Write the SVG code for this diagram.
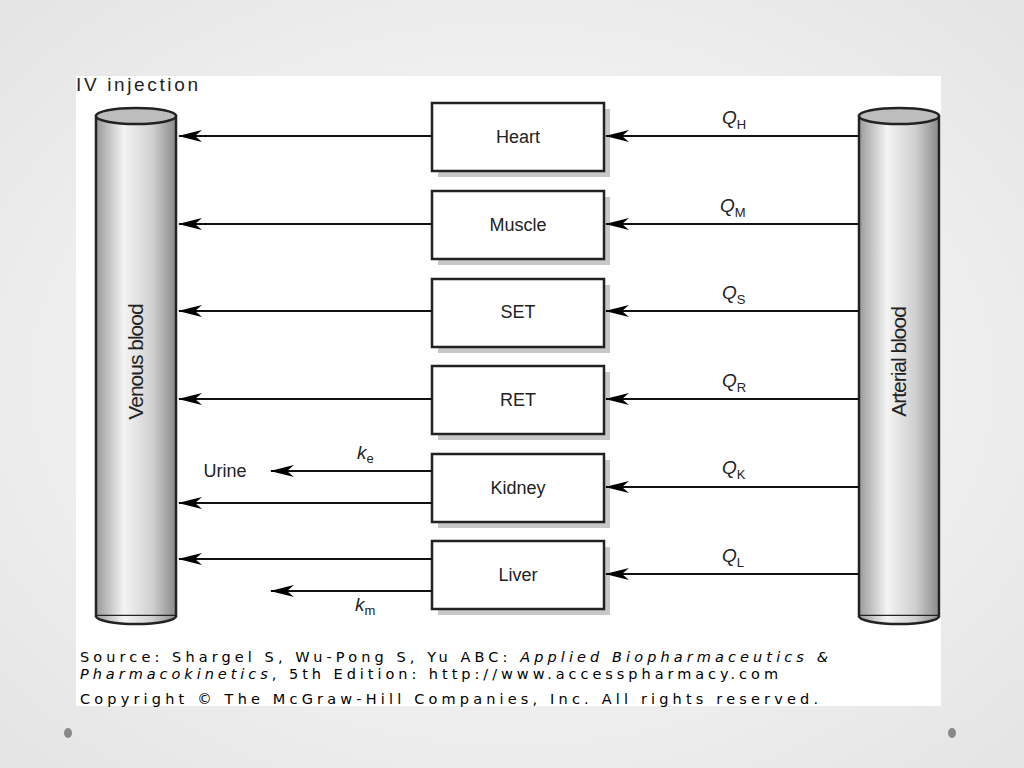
<svg xmlns="http://www.w3.org/2000/svg" width="1024" height="768" viewBox="0 0 1024 768">
<defs>
<radialGradient id="bg" cx="0.5" cy="0.5" r="0.75"><stop offset="0" stop-color="#ffffff"/><stop offset="1" stop-color="#e2e2e2"/></radialGradient>
<linearGradient id="cyl" x1="0" x2="1" y1="0" y2="0"><stop offset="0" stop-color="#9a9a9a"/><stop offset="0.35" stop-color="#f4f4f4"/><stop offset="0.7" stop-color="#d0d0d0"/><stop offset="1" stop-color="#8a8a8a"/></linearGradient>
<marker id="ah" viewBox="0 0 24 12" refX="23" refY="6" markerWidth="24" markerHeight="12" markerUnits="userSpaceOnUse" orient="auto"><path d="M0,0 L24,6 L0,12 L7,6 Z" fill="#000"/></marker>
<style>
.b{fill:#fff;stroke:#222;stroke-width:2.5}
.sh{fill:#c8c8c8}
.t{font-family:"Liberation Sans",Arial,sans-serif;font-size:18px;fill:#222;text-anchor:middle}
.v{font-family:"Liberation Sans Narrow","Liberation Sans",Arial,sans-serif;font-size:21px;fill:#222;text-anchor:middle;letter-spacing:-1px}
.q{font-family:"Liberation Sans",Arial,sans-serif;font-size:19px;font-style:italic;fill:#222}
.s{font-size:13px;font-style:normal}
.c{stroke:#111;stroke-width:2;fill:none;marker-end:url(#ah)}
.f{font-family:"DejaVu Sans",sans-serif;font-size:14.5px;fill:#000}
</style>
</defs>
<rect width="1024" height="768" fill="url(#bg)"/>
<rect x="76" y="76" width="865" height="630" fill="#fff"/>
<text x="76" y="91" font-family="Liberation Sans,Arial,sans-serif" font-size="19" textLength="122" fill="#222">IV injection</text>
<g id="venous">
<rect x="96" y="116" width="80" height="500" fill="url(#cyl)" stroke="#222" stroke-width="2.5"/>
<path d="M96,616 A40,8 0 0 0 176,616" fill="url(#cyl)" stroke="#222" stroke-width="2.5"/>
<ellipse cx="136" cy="116" rx="40" ry="8" fill="#bdbdbd" stroke="#222" stroke-width="2.5"/>
<text transform="translate(143,362) rotate(-90)" class="v">Venous blood</text>
</g>
<g id="arterial">
<rect x="859" y="116" width="80" height="500" fill="url(#cyl)" stroke="#222" stroke-width="2.5"/>
<path d="M859,616 A40,8 0 0 0 939,616" fill="url(#cyl)" stroke="#222" stroke-width="2.5"/>
<ellipse cx="899" cy="116" rx="40" ry="8" fill="#bdbdbd" stroke="#222" stroke-width="2.5"/>
<text transform="translate(906,362) rotate(-90)" class="v">Arterial blood</text>
</g>
<g id="heart"><rect class="sh" x="438" y="109" width="172" height="68"/><rect class="b" x="432" y="103" width="172" height="68"/><text class="t" x="518" y="143">Heart</text></g>
<g id="muscle"><rect class="sh" x="438" y="197" width="172" height="68"/><rect class="b" x="432" y="191" width="172" height="68"/><text class="t" x="518" y="231">Muscle</text></g>
<g id="set"><rect class="sh" x="438" y="285" width="172" height="68"/><rect class="b" x="432" y="279" width="172" height="68"/><text class="t" x="518" y="318">SET</text></g>
<g id="ret"><rect class="sh" x="438" y="372" width="172" height="68"/><rect class="b" x="432" y="366" width="172" height="68"/><text class="t" x="518" y="406">RET</text></g>
<g id="kidney"><rect class="sh" x="438" y="460" width="172" height="68"/><rect class="b" x="432" y="454" width="172" height="68"/><text class="t" x="518" y="494">Kidney</text></g>
<g id="liver"><rect class="sh" x="438" y="547" width="172" height="68"/><rect class="b" x="432" y="541" width="172" height="68"/><text class="t" x="518" y="581">Liver</text></g>
<g id="connectors">
<line class="c" x1="432" y1="136" x2="179" y2="136"/>
<line class="c" x1="432" y1="224" x2="179" y2="224"/>
<line class="c" x1="432" y1="311" x2="179" y2="311"/>
<line class="c" x1="432" y1="399" x2="179" y2="399"/>
<line class="c" x1="432" y1="471" x2="271" y2="471"/>
<line class="c" x1="432" y1="503" x2="179" y2="503"/>
<line class="c" x1="432" y1="559" x2="179" y2="559"/>
<line class="c" x1="432" y1="591" x2="271" y2="591"/>
<line class="c" x1="859" y1="136" x2="606" y2="136"/>
<line class="c" x1="859" y1="224" x2="606" y2="224"/>
<line class="c" x1="859" y1="311" x2="606" y2="311"/>
<line class="c" x1="859" y1="399" x2="606" y2="399"/>
<line class="c" x1="859" y1="487" x2="606" y2="487"/>
<line class="c" x1="859" y1="574" x2="606" y2="574"/>
</g>
<text class="q" x="722" y="124">Q<tspan class="s" dy="5">H</tspan></text>
<text class="q" x="720" y="212">Q<tspan class="s" dy="5">M</tspan></text>
<text class="q" x="722" y="299">Q<tspan class="s" dy="5">S</tspan></text>
<text class="q" x="722" y="387">Q<tspan class="s" dy="5">R</tspan></text>
<text class="q" x="722" y="474">Q<tspan class="s" dy="5">K</tspan></text>
<text class="q" x="722" y="562">Q<tspan class="s" dy="5">L</tspan></text>
<text class="q" x="357" y="459">k<tspan class="s" dy="4">e</tspan></text>
<text class="q" x="355" y="611">k<tspan class="s" dy="4">m</tspan></text>
<text class="t" x="225" y="477" font-size="17">Urine</text>
<text class="f" x="80" y="662" textLength="748">Source: Shargel S, Wu-Pong S, Yu ABC: <tspan font-style="italic">Applied Biopharmaceutics &amp;</tspan></text>
<text class="f" x="80" y="679" textLength="698"><tspan font-style="italic">Pharmacokinetics</tspan>, 5th Edition: http://www.accesspharmacy.com</text>
<text class="f" x="80" y="704" textLength="738">Copyright © The McGraw-Hill Companies, Inc. All rights reserved.</text>
<ellipse cx="68" cy="733" rx="4" ry="5" fill="#888"/>
<ellipse cx="952" cy="733" rx="4" ry="5" fill="#888"/>
</svg>
